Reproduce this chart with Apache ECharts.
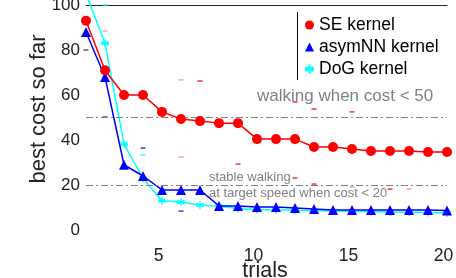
<!DOCTYPE html>
<html><head><meta charset="utf-8">
<script src="https://cdn.jsdelivr.net/npm/echarts@6/dist/echarts.min.js"></script>
<style>html,body{margin:0;padding:0;background:#fff}#c{width:456px;height:278px}</style>
</head><body><div id="c"></div>
<script>
const trials = [1,2,3,4,5,6,7,8,9,10,11,12,13,14,15,16,17,18,19,20];
const seKernel = [93,71,60,60,52.5,49.3,48.4,47.5,47.5,40.4,40.4,40.4,36.9,36.9,36,35.1,35.1,35.1,34.7,34.7];
const asymNNKernel = [88,68,29,24,17.8,17.8,17.8,10.7,10.7,10.2,10.2,9.8,9.3,8.9,8.9,8.9,8.9,8.9,8.9,8.7];
const dogKernel = [105,83,38.2,23,13,12.4,11.1,10.5,9.6,9,9,8.8,8.6,8.4,8.3,8.2,8,7.9,7.8,7.6];
const tipsRed = [[7,66.2],[12,56.9],[13,53.8],[15,52.5],[9,29.3],[12,23.1],[13,20.4],[17,18.2]];
const tipsPink = [[2,88.4],[6,66.7],[6,32.4],[15,19.1],[18,18.2]];
const tipsBlue = [[2,50.2],[4,36.4],[6,8.4]];
const tipsCyan = [[2,100],[4,33.3]];
const tipsDark = [[1,80]];
const xTicks = [5,10,15,20];
const thresholds = [50,20];

const F = 'Liberation Sans, Arial, sans-serif';
const asterisk = 'path://M5,0L5,10M0.7,2.5L9.3,7.5M0.7,7.5L9.3,2.5M0,5L10,5';
const pair = v => v.map((y,i)=>[trials[i],y]);
const tip = (d,c) => ({type:'scatter',data:d,symbol:'rect',symbolSize:[5,1.5],itemStyle:{color:c},silent:true,z:1});

const chart = echarts.init(document.getElementById('c'), null, {renderer:'canvas'});
chart.setOption({
  animation:false,
  grid:{left:86,right:9,top:5,bottom:48,outerBoundsMode:'none',containLabel:false},
  xAxis:[{type:'value',min:1,max:20,position:'bottom',
    axisLine:{show:false},axisTick:{show:false},splitLine:{show:false},
    axisLabel:{customValues:xTicks,fontFamily:F,fontSize:17.5,color:'#222',margin:17,padding:[0,7,0,0]}},
    {type:'value',min:1,max:20,position:'top',axisLine:{show:true,lineStyle:{color:'#222',width:1}},
    axisTick:{show:false},axisLabel:{show:false},splitLine:{show:false}}],
  yAxis:{type:'value',min:0,max:100,interval:20,
    axisLine:{show:false},axisTick:{show:false},splitLine:{show:false},
    axisLabel:{fontFamily:F,fontSize:17,color:'#222',margin:6}},
  legend:{left:299,top:11,orient:'vertical',itemWidth:9,itemHeight:9,itemGap:4,itemTextGap:4,
    textStyle:{fontFamily:F,fontSize:17.5,color:'#000',lineHeight:18},
    data:[{name:'SE kernel',icon:'circle'},{name:'asymNN kernel',icon:'triangle'},{name:'DoG kernel',icon:asterisk}]},
  graphic:[
    {type:'line',shape:{x1:297.5,y1:12,x2:297.5,y2:80},style:{stroke:'#000',lineWidth:1}},
    {type:'text',x:39,y:109,rotation:Math.PI/2,style:{text:'best cost so far',font:'22px '+F,fill:'#222',align:'center',verticalAlign:'middle'}},
    {type:'text',x:265,y:271,style:{text:'trials',font:'21.5px '+F,fill:'#222',align:'center',verticalAlign:'middle'}},
    {type:'text',left:257,top:88,style:{text:'walking when cost < 50',font:'17px '+F,fill:'#808080'}},
    {type:'text',left:209,top:171,style:{text:'stable walking',font:'13px '+F,fill:'#808080'}},
    {type:'text',left:209,top:187,style:{text:'at target speed when cost < 20',font:'13px '+F,fill:'#808080'}}
  ],
  series:[
    tip(tipsRed,'#ff0000'),tip(tipsPink,'#ff8888'),tip(tipsBlue,'#0000ff'),tip(tipsCyan,'#00ffff'),tip(tipsDark,'#333333'),
    {name:'DoG kernel',type:'line',data:pair(dogKernel),symbol:asterisk,symbolSize:8,clip:false,
      lineStyle:{color:'#00ffff',width:1.5},itemStyle:{color:'#00ffff',borderColor:'#00ffff',borderWidth:1.3},z:3,
      markLine:{silent:true,symbol:'none',label:{show:false},lineStyle:{color:'#808080',width:1,type:[7,3,2,3]},
        data:thresholds.map(v=>({yAxis:v}))}},
    {name:'asymNN kernel',type:'line',data:pair(asymNNKernel),symbol:'triangle',symbolSize:10,
      lineStyle:{color:'#0000ff',width:1.5},itemStyle:{color:'#0000ff'},z:4},
    {name:'SE kernel',type:'line',data:pair(seKernel),symbol:'circle',symbolSize:10,
      lineStyle:{color:'#ff0000',width:1.5},itemStyle:{color:'#ff0000'},z:5}
  ]
});
</script></body></html>
